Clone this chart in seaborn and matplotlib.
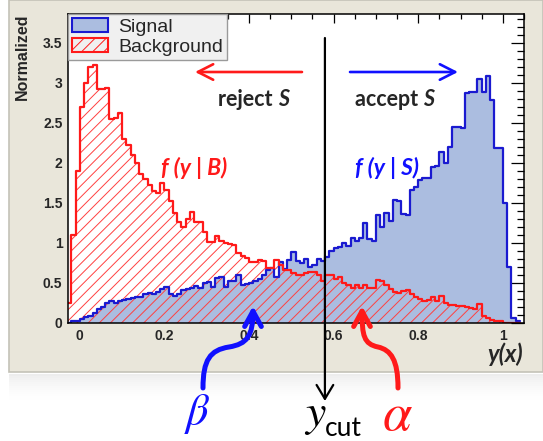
import numpy as np
import pandas as pd
import matplotlib
matplotlib.use("Agg")
import matplotlib.pyplot as plt
import seaborn as sns
from matplotlib.patches import Patch, Rectangle, FancyArrowPatch
from matplotlib.path import Path
from matplotlib.ticker import MultipleLocator

# ---------------- data ----------------
bin_start = -0.03
bin_width = 0.01

signal = [0.0, 0.02, 0.03, 0.05, 0.07, 0.09, 0.13, 0.18, 0.2, 0.25,
          0.27, 0.25, 0.28, 0.29, 0.3, 0.31, 0.33, 0.33, 0.36, 0.38,
          0.36, 0.39, 0.42, 0.45, 0.36, 0.34, 0.36, 0.41, 0.42, 0.44,
          0.46, 0.44, 0.5, 0.51, 0.45, 0.56, 0.57, 0.45, 0.52, 0.53,
          0.6, 0.47, 0.49, 0.5, 0.52, 0.55, 0.6, 0.66, 0.69, 0.57,
          0.76, 0.68, 0.79, 0.89, 0.78, 0.75, 0.8, 0.7, 0.72, 0.8,
          0.77, 0.82, 0.9, 0.94, 0.95, 1.0, 0.96, 1.06, 1.03, 1.06,
          1.25, 1.05, 1.03, 1.35, 1.2, 1.37, 1.28, 1.54, 1.52, 1.36,
          1.35, 1.66, 1.7, 1.79, 1.81, 1.81, 1.95, 1.96, 2.14, 2.0,
          2.2, 2.45, 2.45, 2.44, 2.87, 2.88, 2.88, 3.05, 2.88, 3.08,
          2.79, 2.19, 2.19, 1.5, 0.7, 0.06, 0.02]

background = [0.25, 1.1, 1.9, 2.7, 3.0, 3.2, 3.22, 2.92, 2.92, 2.93,
              2.55, 2.56, 2.62, 2.3, 2.22, 2.1, 2.0, 1.86, 1.8, 1.72,
              1.65, 1.63, 1.75, 1.66, 1.52, 1.37, 1.26, 1.2, 1.3, 1.39,
              1.26, 1.26, 1.14, 1.01, 1.01, 1.09, 1.02, 1.0, 0.99, 0.98,
              0.87, 0.84, 0.81, 0.76, 0.76, 0.79, 0.78, 0.69, 0.69, 0.79,
              0.72, 0.66, 0.66, 0.62, 0.6, 0.6, 0.63, 0.64, 0.64, 0.6,
              0.52, 0.6, 0.6, 0.55, 0.58, 0.5, 0.47, 0.44, 0.47, 0.44,
              0.47, 0.44, 0.44, 0.54, 0.53, 0.47, 0.42, 0.39, 0.38, 0.4,
              0.41, 0.36, 0.33, 0.3, 0.27, 0.29, 0.33, 0.28, 0.34, 0.25,
              0.23, 0.22, 0.21, 0.21, 0.2, 0.19, 0.18, 0.24, 0.09, 0.06,
              0.04, 0.03, 0.02, 0.0, 0.0, 0.0, 0.0]

x_ticks = [0, 0.2, 0.4, 0.6, 0.8, 1]
x_tick_labels = ["0", "0.2", "0.4", "0.6", "0.8", "1"]
y_ticks = [0, 0.5, 1, 1.5, 2, 2.5, 3, 3.5]
y_tick_labels = ["0", "0.5", "1", "1.5", "2", "2.5", "3", "3.5"]
legend_labels = ["Signal", "Background"]
y_cut = 0.579

n = len(signal)
edges = [round(bin_start + bin_width * i, 4) for i in range(n + 1)]
centers = [round(e + bin_width / 2, 4) for e in edges[:-1]]
df = pd.DataFrame({"y": centers, "sig": signal, "bkg": background})

# ---------------- style ----------------
sns.set_style("white")
plt.rcParams["font.family"] = ["Liberation Sans", "DejaVu Sans"]
plt.rcParams["hatch.linewidth"] = 0.7
plt.rcParams["hatch.color"] = "#ff3030"
plt.rcParams["mathtext.fontset"] = "stix"

W, H = 543, 441
SIG_FILL = "#abbde0"
SIG_EDGE = "#1a1ad0"
RED = "#ff1a1a"
HATCH = "#ff4040"
BLUE = "#1010ff"


def F(px, py):
    return (px / W, 1 - py / H)


fig = plt.figure(figsize=(W / 100, H / 100), dpi=100)
fig.patch.set_facecolor("white")

# beige canvas panel + soft shadow
fig.add_artist(Rectangle(F(9, 372), (W - 9) / W, 372 / H, transform=fig.transFigure,
                         facecolor="#e9e6da", edgecolor="#c4c2b8", lw=1.2, zorder=-10))
for k in range(14):
    fig.add_artist(Rectangle(F(9, 374 + 2 * k + 2), (W - 9) / W, 2 / H, transform=fig.transFigure,
                             facecolor="#b0b0b0", edgecolor="none", alpha=0.22 * (1 - k / 14) ** 2,
                             zorder=-10))

ax = fig.add_axes([68 / W, 1 - 323 / H, (524 - 68) / W, (323 - 14) / H])
ax.set_facecolor("white")

# signal filled area
sns.histplot(data=df, x="y", weights="sig", bins=edges, element="step", fill=True,
             color=SIG_FILL, alpha=1, linewidth=0, ax=ax)
ax.collections[-1].set_facecolor(SIG_FILL)
ax.collections[-1].set_edgecolor("none")
# background hatched area
sns.histplot(data=df, x="y", weights="bkg", bins=edges, element="step", fill=True,
             color=RED, alpha=1, linewidth=0, ax=ax)
bc = ax.collections[-1]
bc.set_facecolor("none")
bc.set_edgecolor(HATCH)
bc.set_linewidth(0)
bc.set_hatch("///")
# outlines
sns.histplot(data=df, x="y", weights="sig", bins=edges, element="step", fill=False,
             color=SIG_EDGE, linewidth=1.6, ax=ax)
sns.histplot(data=df, x="y", weights="bkg", bins=edges, element="step", fill=False,
             color=RED, linewidth=1.6, ax=ax)

ax.set_xlim(-0.028, 1.05)
ax.set_ylim(0, 3.86)
ax.set_xlabel("")
ax.set_ylabel("")
ax.set_xticks(x_ticks)
ax.set_xticklabels(x_tick_labels)
ax.set_yticks(y_ticks)
ax.set_yticklabels(y_tick_labels)
ax.xaxis.set_minor_locator(MultipleLocator(0.05))
ax.yaxis.set_minor_locator(MultipleLocator(0.1))
ax.tick_params(which="both", direction="in", top=True, right=True, width=0.9, color="black")
ax.tick_params(axis="x", which="major", length=6.5, pad=4)
ax.tick_params(axis="x", which="minor", length=3.3)
ax.tick_params(axis="y", which="major", length=9.5, pad=4)
ax.tick_params(axis="y", which="minor", length=4.8)
for lab in ax.get_xticklabels() + ax.get_yticklabels():
    lab.set_fontweight("bold")
    lab.set_fontsize(10)
for s in ax.spines.values():
    s.set_color("black")
    s.set_linewidth(1.1)

# legend
handles = [Patch(facecolor=SIG_FILL, edgecolor=SIG_EDGE, lw=1.5, label=legend_labels[0]),
           Patch(facecolor="none", edgecolor=RED, hatch="///", lw=1.5, label=legend_labels[1])]
leg = ax.legend(handles=handles, loc="upper left", bbox_to_anchor=(0, 1), borderaxespad=0,
                frameon=True, fancybox=False, framealpha=1, facecolor="#f0f0f0",
                edgecolor="#9a9a9a", prop={"family": "Liberation Sans", "size": 14},
                handlelength=1.85, handleheight=0.75, handletextpad=0.55, borderpad=0.2,
                labelspacing=0.12)
leg.get_frame().set_linewidth(1.0)

# axis titles
fig.text(*F(22, 14), "Normalized", rotation=90, ha="center", va="top",
         fontsize=11.5, fontweight="bold", family="Liberation Sans")
fig.text(*F(505, 354), "y(x)", ha="center", va="center", fontsize=17,
         fontweight="bold", style="italic", family="Lato")

# annotations in plot
ann_font = "Lato"
t1 = fig.text(*F(218, 100), "reject ", ha="left", va="center", fontsize=15.5,
              fontweight="bold", family=ann_font)
ax.annotate("S", xy=(1, 0), xycoords=t1, ha="left", va="bottom", fontsize=15.5,
            fontweight="bold", style="italic", family=ann_font)
t2 = fig.text(*F(355, 100), "accept ", ha="left", va="center", fontsize=15.5,
              fontweight="bold", family=ann_font)
ax.annotate("S", xy=(1, 0), xycoords=t2, ha="left", va="bottom", fontsize=15.5,
            fontweight="bold", style="italic", family=ann_font)
fig.text(*F(194, 168), "f (y | B)", ha="center", va="center", fontsize=16.5,
         fontweight="bold", style="italic", color=RED, family=ann_font)
fig.text(*F(387, 168), "f (y | S)", ha="center", va="center", fontsize=16.5,
         fontweight="bold", style="italic", color=BLUE, family=ann_font)

# straight arrows
def farrow(p0, p1, color, lw, hl, hw):
    a = FancyArrowPatch(F(*p0), F(*p1), transform=fig.transFigure,
                        arrowstyle=f"->,head_length={hl},head_width={hw}",
                        mutation_scale=20, lw=lw, color=color, shrinkA=0, shrinkB=0,
                        zorder=5)
    fig.add_artist(a)

farrow((302, 72), (195, 72), RED, 1.9, 0.55, 0.28)
farrow((350, 72), (458, 72), BLUE, 1.9, 0.55, 0.28)
cut_px = 80 + y_cut * 423
farrow((cut_px, 38), (cut_px, 401), "black", 1.6, 0.5, 0.3)

# curved arrows
def curved(pts, color):
    verts = [F(*p) for p in pts]
    codes = [Path.MOVETO, Path.CURVE4, Path.CURVE4, Path.CURVE4,
             Path.CURVE4, Path.CURVE4, Path.CURVE4]
    a = FancyArrowPatch(path=Path(verts, codes), transform=fig.transFigure,
                        arrowstyle="->,head_length=0.55,head_width=0.3",
                        mutation_scale=20, lw=3.6, color=color, zorder=6)
    fig.add_artist(a)

curved([(203, 388), (203, 360), (210, 350), (229, 347),
        (247, 344), (253, 336), (253, 306)], BLUE)
curved([(398, 388), (398, 360), (391, 350), (378, 347),
        (364, 344), (362, 336), (362, 306)], RED)

# greek labels and y_cut
fig.text(*F(197, 414), r"$\beta$", ha="center", va="center", fontsize=32, color=BLUE)
fig.text(*F(397, 416), r"$\alpha$", ha="center", va="center", fontsize=38, color=RED)
fig.text(*F(304, 426), r"$y$", ha="left", va="baseline", fontsize=33, color="black")
fig.text(*F(325, 436), "cut", ha="left", va="baseline", fontsize=19, color="black",
         family="Lato")

fig.savefig("out.png", dpi=100, facecolor=fig.get_facecolor())
